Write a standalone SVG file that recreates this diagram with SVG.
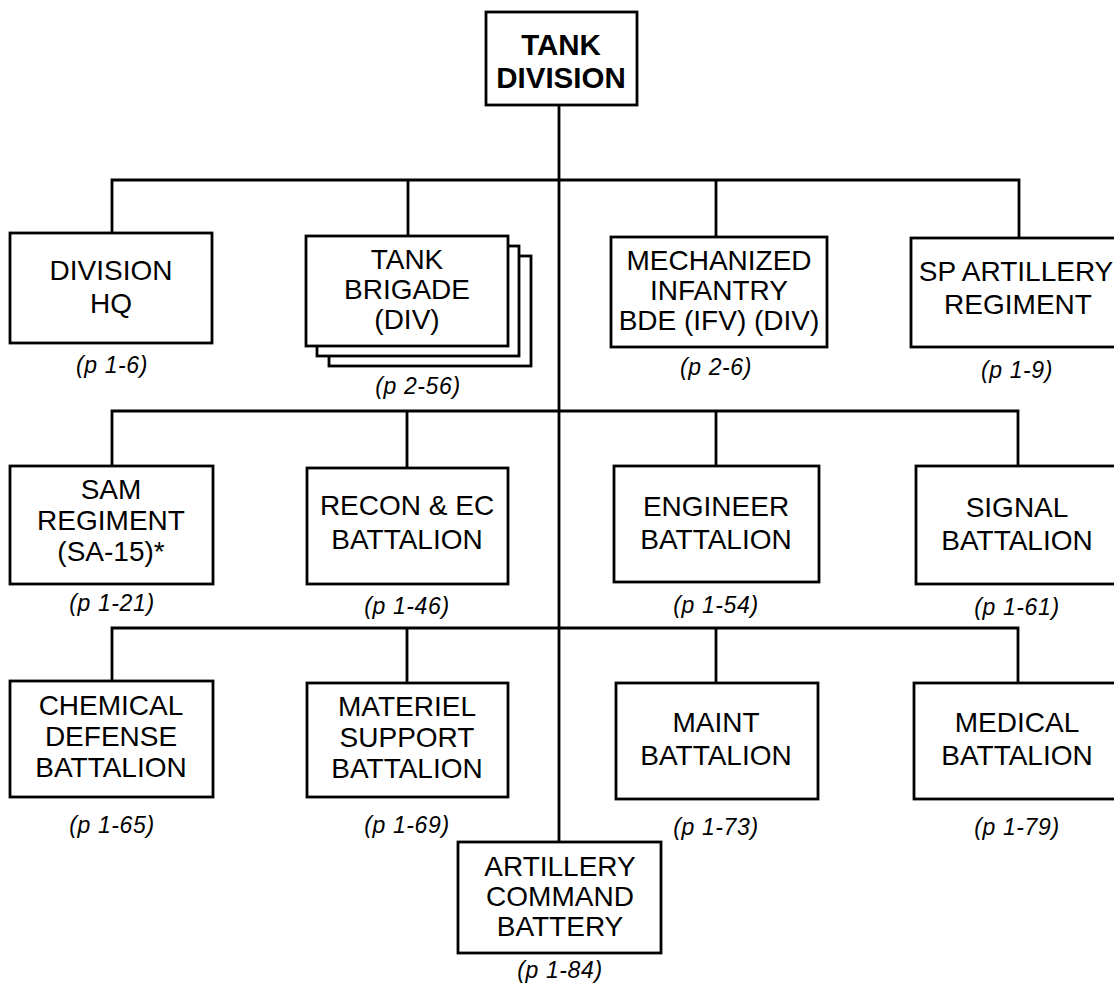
<svg xmlns="http://www.w3.org/2000/svg" width="1114" height="984" viewBox="0 0 1114 984">
<style>
.bx{fill:#fff;stroke:#000;stroke-width:2.8}
.ln{fill:none;stroke:#000;stroke-width:2.8}
.t{font-family:"Liberation Sans",Arial,Helvetica,sans-serif;font-size:28px;fill:#000;text-anchor:middle}
.tb{font-family:"Liberation Sans",Arial,Helvetica,sans-serif;font-size:29.5px;font-weight:bold;fill:#000;text-anchor:middle}
.p{font-family:"Liberation Sans",Arial,Helvetica,sans-serif;font-size:23px;font-style:italic;letter-spacing:0.6px;fill:#000;text-anchor:middle}
</style>
<rect width="1114" height="984" fill="#fff"/>
<g id="connectors">
<path class="ln" d="M559,105 V842"/>
<path class="ln" d="M112,233 V180 H1019 V238 M408,180 V236 M716,180 V237"/>
<path class="ln" d="M112,466 V411 H1018 V466 M407,411 V468 M716,411 V466"/>
<path class="ln" d="M112,681 V628 H1018 V683 M407,628 V683 M716,628 V683"/>
</g>
<g id="tank-division">
<rect class="bx" x="486" y="12" width="151" height="93"/>
<text class="tb" x="561" y="55">TANK</text>
<text class="tb" x="561" y="88">DIVISION</text>
</g>
<g id="division-hq">
<rect class="bx" x="10" y="233" width="202" height="110"/>
<text class="t" x="111" y="280">DIVISION</text>
<text class="t" x="111" y="313">HQ</text>
<text class="p" x="112" y="373">(p 1-6)</text>
</g>
<g id="tank-brigade">
<rect class="bx" x="329" y="256" width="202" height="110"/>
<rect class="bx" x="317" y="246" width="202" height="110"/>
<rect class="bx" x="306" y="236" width="202" height="110"/>
<text class="t" x="407" y="269">TANK</text>
<text class="t" x="407" y="299">BRIGADE</text>
<text class="t" x="407" y="329">(DIV)</text>
<text class="p" x="418" y="394">(p 2-56)</text>
</g>
<g id="mech-inf-bde">
<rect class="bx" x="611" y="237" width="216" height="110"/>
<text class="t" x="719" y="270">MECHANIZED</text>
<text class="t" x="719" y="300">INFANTRY</text>
<text class="t" x="719" y="330">BDE (IFV) (DIV)</text>
<text class="p" x="716" y="375">(p 2-6)</text>
</g>
<g id="sp-artillery">
<rect class="bx" x="911" y="238" width="215" height="109"/>
<text class="t" x="1016" y="281">SP ARTILLERY</text>
<text class="t" x="1018" y="314">REGIMENT</text>
<text class="p" x="1017" y="378">(p 1-9)</text>
</g>
<g id="sam-regiment">
<rect class="bx" x="10" y="466" width="203" height="118"/>
<text class="t" x="111" y="499">SAM</text>
<text class="t" x="111" y="530">REGIMENT</text>
<text class="t" x="111" y="561">(SA-15)*</text>
<text class="p" x="112" y="611">(p 1-21)</text>
</g>
<g id="recon-ec-bn">
<rect class="bx" x="307" y="468" width="201" height="116"/>
<text class="t" x="407" y="515">RECON &amp; EC</text>
<text class="t" x="407" y="549">BATTALION</text>
<text class="p" x="407" y="614">(p 1-46)</text>
</g>
<g id="engineer-bn">
<rect class="bx" x="614" y="466" width="205" height="116"/>
<text class="t" x="716" y="516">ENGINEER</text>
<text class="t" x="716" y="549">BATTALION</text>
<text class="p" x="716" y="613">(p 1-54)</text>
</g>
<g id="signal-bn">
<rect class="bx" x="916" y="466" width="210" height="118"/>
<text class="t" x="1017" y="517">SIGNAL</text>
<text class="t" x="1017" y="550">BATTALION</text>
<text class="p" x="1017" y="615">(p 1-61)</text>
</g>
<g id="chem-defense-bn">
<rect class="bx" x="10" y="681" width="203" height="116"/>
<text class="t" x="111" y="715">CHEMICAL</text>
<text class="t" x="111" y="746">DEFENSE</text>
<text class="t" x="111" y="777">BATTALION</text>
<text class="p" x="112" y="833">(p 1-65)</text>
</g>
<g id="materiel-support-bn">
<rect class="bx" x="307" y="683" width="201" height="114"/>
<text class="t" x="407" y="716">MATERIEL</text>
<text class="t" x="407" y="747">SUPPORT</text>
<text class="t" x="407" y="778">BATTALION</text>
<text class="p" x="407" y="833">(p 1-69)</text>
</g>
<g id="maint-bn">
<rect class="bx" x="616" y="683" width="202" height="116"/>
<text class="t" x="716" y="732">MAINT</text>
<text class="t" x="716" y="765">BATTALION</text>
<text class="p" x="716" y="835">(p 1-73)</text>
</g>
<g id="medical-bn">
<rect class="bx" x="914" y="683" width="212" height="116"/>
<text class="t" x="1017" y="732">MEDICAL</text>
<text class="t" x="1017" y="765">BATTALION</text>
<text class="p" x="1017" y="835">(p 1-79)</text>
</g>
<g id="artillery-cmd-battery">
<rect class="bx" x="458" y="842" width="203" height="111"/>
<text class="t" x="560" y="876">ARTILLERY</text>
<text class="t" x="560" y="906">COMMAND</text>
<text class="t" x="560" y="936">BATTERY</text>
<text class="p" x="560" y="978">(p 1-84)</text>
</g>
</svg>
